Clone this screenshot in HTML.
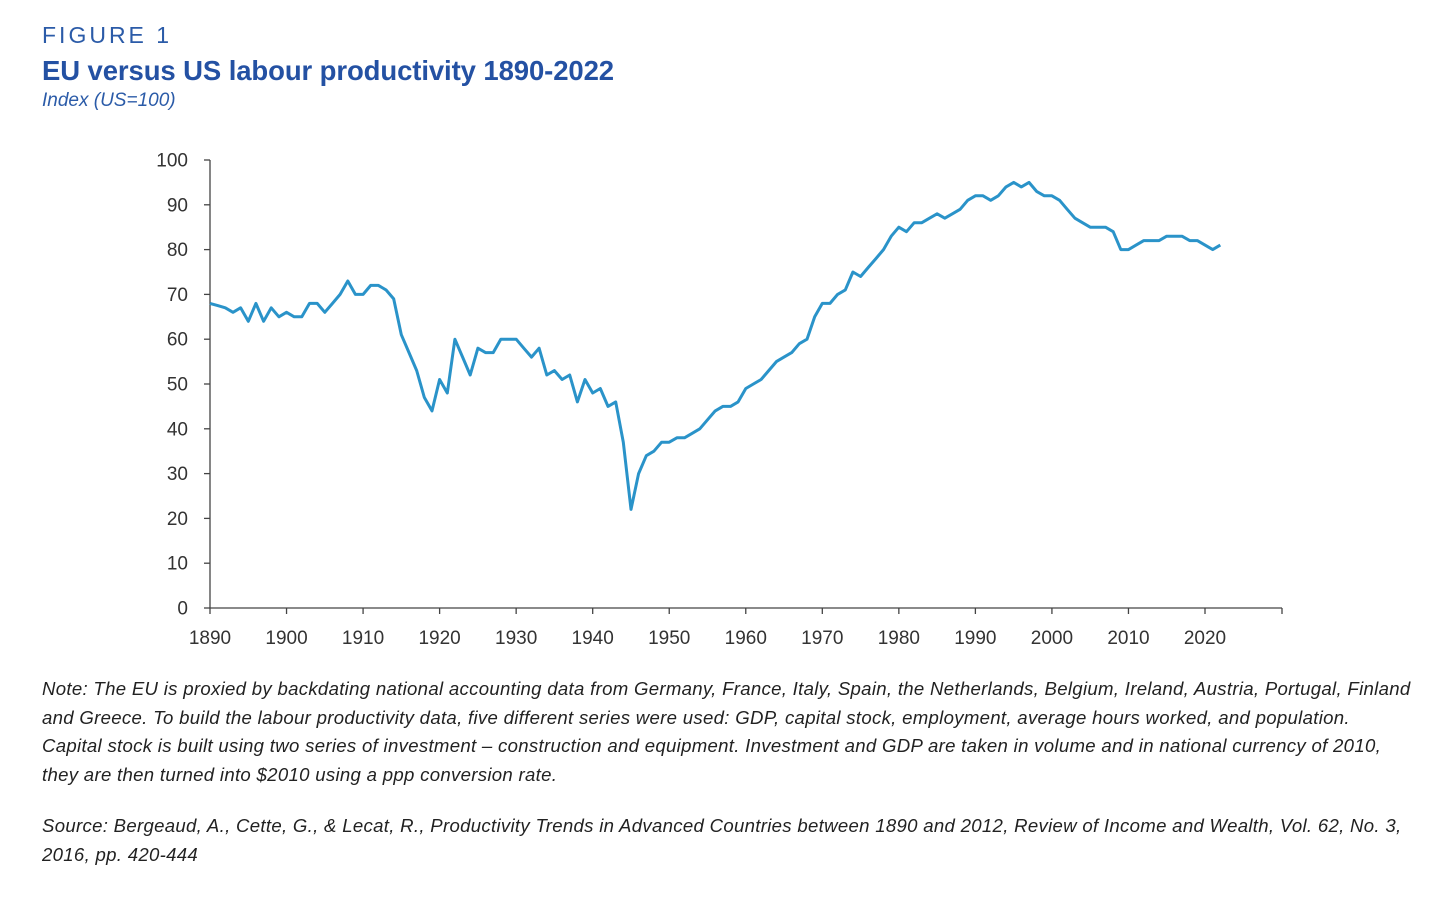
<!DOCTYPE html>
<html><head><meta charset="utf-8"><style>
body{margin:0;width:1456px;height:911px;background:#fff;font-family:"Liberation Sans",sans-serif;overflow:hidden;position:relative}
.a{position:absolute;white-space:nowrap}
#fig{left:42px;top:22px;font-size:23px;letter-spacing:3px;color:#2b5ba8}
#title{left:42px;top:55px;font-size:27.5px;font-weight:bold;color:#2451a3;letter-spacing:-0.1px}
#sub{left:42px;top:90px;font-size:19px;font-style:italic;color:#2b5ba8}
.note{left:42px;font-size:18.6px;font-style:italic;color:#222;line-height:28.5px;letter-spacing:0.3px}
svg{position:absolute;left:0;top:0}
</style></head><body>
<div class="a" id="fig">FIGURE 1</div>
<div class="a" id="title">EU versus US labour productivity 1890-2022</div>
<div class="a" id="sub">Index (US=100)</div>
<svg id="chart" width="1456" height="911"></svg>
<div class="a note" style="top:675px">Note: The EU is proxied by backdating national accounting data from Germany, France, Italy, Spain, the Netherlands, Belgium, Ireland, Austria, Portugal, Finland<br>and Greece. To build the labour productivity data, five different series were used: GDP, capital stock, employment, average hours worked, and population.<br>Capital stock is built using two series of investment – construction and equipment. Investment and GDP are taken in volume and in national currency of 2010,<br>they are then turned into $2010 using a ppp conversion rate.</div>
<div class="a note" style="top:812px">Source: Bergeaud, A., Cette, G., &amp; Lecat, R., Productivity Trends in Advanced Countries between 1890 and 2012, Review of Income and Wealth, Vol. 62, No. 3,<br>2016, pp. 420-444</div>
<script>
const startYear = 1890;
const values = [68,67.5,67,66,67,64,68,64,67,65,66,65,65,68,68,66,68,70,73,70,70,72,72,71,69,61,57,53,47,44,51,48,60,56,52,58,57,57,60,60,60,58,56,58,52,53,51,52,46,51,48,49,45,46,37,22,30,34,35,37,37,38,38,39,40,42,44,45,45,46,49,50,51,53,55,56,57,59,60,65,68,68,70,71,75,74,76,78,80,83,85,84,86,86,87,88,87,88,89,91,92,92,91,92,94,95,94,95,93,92,92,91,89,87,86,85,85,85,84,80,80,81,82,82,82,83,83,83,82,82,81,80,81];
const xTicks = [1890,1900,1910,1920,1930,1940,1950,1960,1970,1980,1990,2000,2010,2020];
const yTicks = [0,10,20,30,40,50,60,70,80,90,100];
const NS='http://www.w3.org/2000/svg';
const svg=document.getElementById('chart');
const x0=210,x1=1205,y0=608,y1=160;
function xs(y){return x0+(y-1890)*(x1-x0)/130;}
function ys(v){return y0-v*(y0-y1)/100;}
function mk(t,a){const e=document.createElementNS(NS,t);for(const k in a)e.setAttribute(k,a[k]);svg.appendChild(e);return e;}
let ax=mk('line',{x1:x0,y1:y1,x2:x0,y2:y0,stroke:'#444','stroke-width':1.3});


let bx=mk('line',{x1:x0,y1:y0,x2:1282,y2:y0,stroke:'#444','stroke-width':1.3});


mk('line',{x1:1282,y1:y0,x2:1282,y2:y0+6,stroke:'#444','stroke-width':1.3});
yTicks.forEach(v=>{
 mk('line',{x1:x0-6,y1:ys(v),x2:x0,y2:ys(v),stroke:'#444','stroke-width':1.3});
 const t=mk('text',{x:188,y:ys(v)+6.5,'text-anchor':'end','font-size':19,fill:'#333','font-family':'Liberation Sans, sans-serif'});
 t.textContent=v;
 
 
});
xTicks.forEach(v=>{
 mk('line',{x1:xs(v),y1:y0,x2:xs(v),y2:y0+6,stroke:'#444','stroke-width':1.3});
 const t=mk('text',{x:xs(v),y:644,'text-anchor':'middle','font-size':19,fill:'#333','font-family':'Liberation Sans, sans-serif'});
 t.textContent=v;
 
 
});
const pts=values.map((v,i)=>xs(startYear+i).toFixed(1)+','+ys(v).toFixed(1)).join(' ');
const line=mk('polyline',{points:pts,fill:'none',stroke:'#2a93c9','stroke-width':3,'stroke-linejoin':'round'});


</script>
</body></html>
